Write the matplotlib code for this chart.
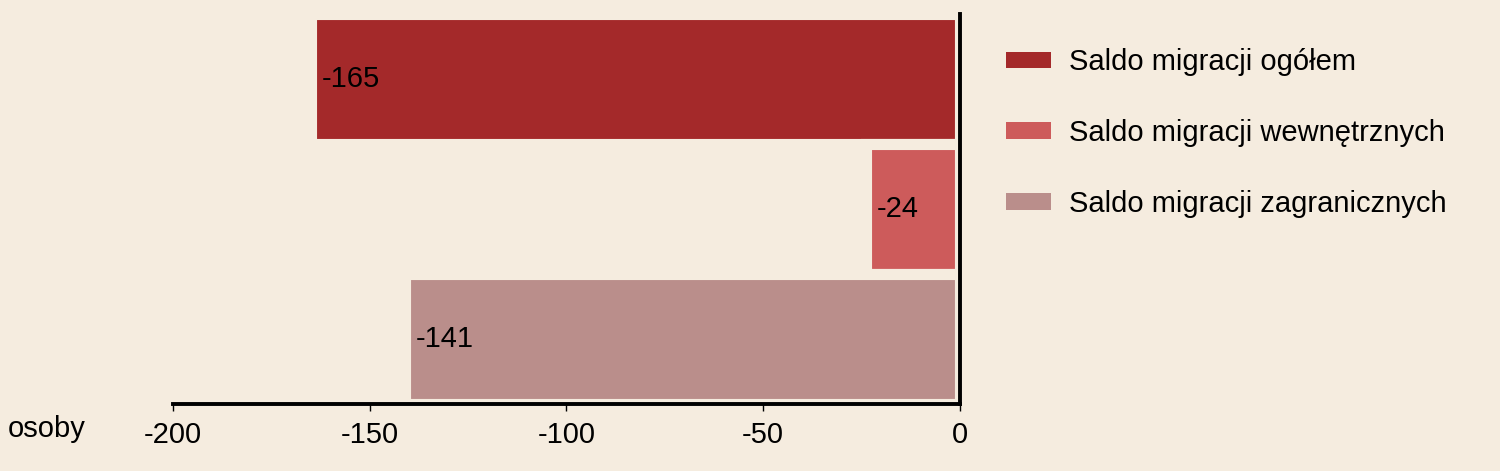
import matplotlib
matplotlib.use('Agg')
import matplotlib.pyplot as plt
from matplotlib.patches import Patch

# dane
kategorie = ['Saldo migracji ogółem', 'Saldo migracji wewnętrznych', 'Saldo migracji zagranicznych']
wartosci = [-165, -24, -141]
kolory = ['#A4292A', '#CD5B5B', '#BA8E8B']
ticki = [-200, -150, -100, -50, 0]
tlo = '#F5ECDF'

plt.rcParams['font.family'] = ['Liberation Sans', 'DejaVu Sans']

fig = plt.figure(figsize=(15, 4.71), dpi=100)
fig.patch.set_facecolor(tlo)
ax = fig.add_axes([0.1153, 0.1423, 0.5247, 0.828])
ax.set_facecolor(tlo)

pozycje = list(range(len(wartosci)))
ax.barh(pozycje, wartosci, height=1.0, color=kolory, edgecolor=tlo, linewidth=8)
for y, v in zip(pozycje, wartosci):
    ax.annotate(str(v), (v, y), xytext=(8, 0), textcoords='offset points',
                ha='left', va='center', fontsize=21, color='black')

ax.set_xlim(-200, 0)
ax.set_ylim(len(wartosci) - 0.5, -0.5)
ax.set_xticks(ticki)
ax.set_xticklabels([str(t) for t in ticki], fontsize=21)
ax.set_yticks([])
ax.tick_params(axis='x', direction='out', length=5, width=1, pad=7)

for s in ['top', 'left']:
    ax.spines[s].set_visible(False)
ax.spines['right'].set_linewidth(2.8)
ax.spines['bottom'].set_linewidth(2.8)

fig.text(8 / 1500, 1 - 429 / 471, 'osoby', fontsize=21, ha='left', va='center')

uchwyty = [Patch(facecolor=c, edgecolor='none') for c in kolory]
fig.legend(uchwyty, kategorie, loc='upper left', bbox_to_anchor=(1006 / 1500, 1 - 48 / 471),
           frameon=False, fontsize=21, handlelength=1.54, handleheight=0.48,
           handletextpad=0.62, labelspacing=1.47, borderaxespad=0, borderpad=0)

plt.savefig('out.png', dpi=100, facecolor=tlo)
